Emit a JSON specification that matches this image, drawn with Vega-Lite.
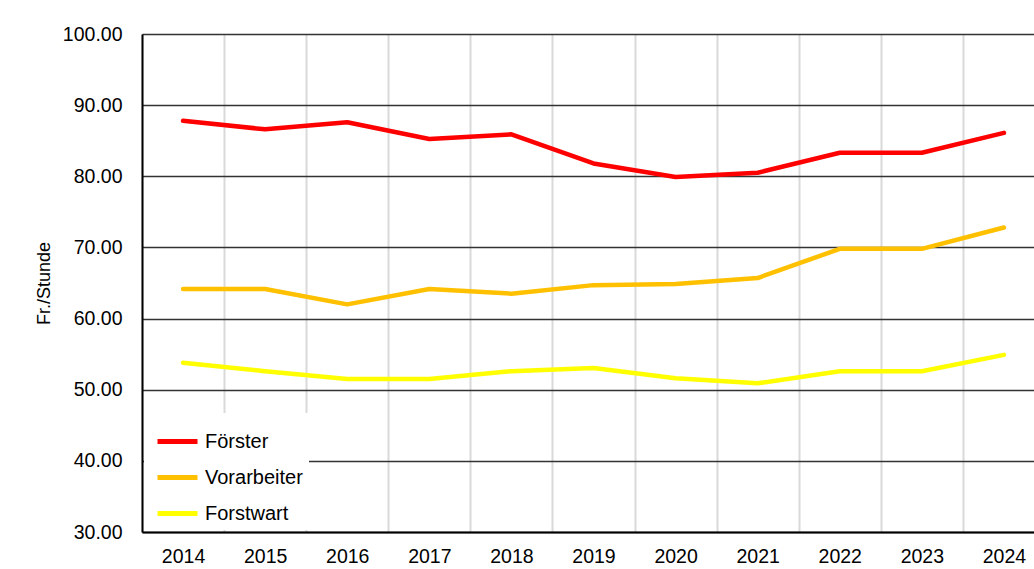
{
  "$schema": "https://vega.github.io/schema/vega-lite/v6.json",
  "width": 903,
  "height": 498,
  "autosize": {"type": "none"},
  "padding": {"left": 142, "top": 34, "right": 0, "bottom": 37},
  "background": "white",
  "config": {"view": {"stroke": null}, "font": "Liberation Sans"},
  "data": {
    "values": [
      {"year": 2014, "series": "Förster", "value": 87.8},
      {"year": 2015, "series": "Förster", "value": 86.6},
      {"year": 2016, "series": "Förster", "value": 87.6},
      {"year": 2017, "series": "Förster", "value": 85.25},
      {"year": 2018, "series": "Förster", "value": 85.9},
      {"year": 2019, "series": "Förster", "value": 81.8},
      {"year": 2020, "series": "Förster", "value": 79.9},
      {"year": 2021, "series": "Förster", "value": 80.5},
      {"year": 2022, "series": "Förster", "value": 83.3},
      {"year": 2023, "series": "Förster", "value": 83.3},
      {"year": 2024, "series": "Förster", "value": 86.1},
      {"year": 2014, "series": "Vorarbeiter", "value": 64.15},
      {"year": 2015, "series": "Vorarbeiter", "value": 64.15},
      {"year": 2016, "series": "Vorarbeiter", "value": 62.0},
      {"year": 2017, "series": "Vorarbeiter", "value": 64.15},
      {"year": 2018, "series": "Vorarbeiter", "value": 63.5},
      {"year": 2019, "series": "Vorarbeiter", "value": 64.7},
      {"year": 2020, "series": "Vorarbeiter", "value": 64.85},
      {"year": 2021, "series": "Vorarbeiter", "value": 65.7},
      {"year": 2022, "series": "Vorarbeiter", "value": 69.8},
      {"year": 2023, "series": "Vorarbeiter", "value": 69.8},
      {"year": 2024, "series": "Vorarbeiter", "value": 72.8},
      {"year": 2014, "series": "Forstwart", "value": 53.8},
      {"year": 2015, "series": "Forstwart", "value": 52.6},
      {"year": 2016, "series": "Forstwart", "value": 51.5},
      {"year": 2017, "series": "Forstwart", "value": 51.5},
      {"year": 2018, "series": "Forstwart", "value": 52.6},
      {"year": 2019, "series": "Forstwart", "value": 53.05},
      {"year": 2020, "series": "Forstwart", "value": 51.6},
      {"year": 2021, "series": "Forstwart", "value": 50.9},
      {"year": 2022, "series": "Forstwart", "value": 52.6},
      {"year": 2023, "series": "Forstwart", "value": 52.6},
      {"year": 2024, "series": "Forstwart", "value": 54.9}
    ]
  },
  "mark": {"type": "line", "strokeWidth": 4.5, "strokeCap": "round", "strokeJoin": "round"},
  "encoding": {
    "x": {
      "field": "year",
      "type": "quantitative",
      "scale": {"domain": [2013.5, 2024.5], "nice": false, "zero": false},
      "axis": {
        "values": [2013.5, 2014, 2014.5, 2015, 2015.5, 2016, 2016.5, 2017, 2017.5, 2018, 2018.5, 2019, 2019.5, 2020, 2020.5, 2021, 2021.5, 2022, 2022.5, 2023, 2023.5, 2024, 2024.5],
        "labelExpr": "datum.value % 1 === 0 ? format(datum.value, 'd') : ''",
        "title": null,
        "ticks": false,
        "domainColor": "#000000",
        "domainWidth": 2,
        "grid": true,
        "gridColor": "#D9D9D9",
        "gridWidth": 2,
        "gridOpacity": {"condition": {"test": "datum.value % 1 === 0", "value": 0}, "value": 1},
        "labelFontSize": 19.5,
        "labelPadding": 15,
        "labelColor": "#000000",
        "labelFlush": false,
        "labelOverlap": false
      }
    },
    "y": {
      "field": "value",
      "type": "quantitative",
      "scale": {"domain": [30, 100], "nice": false, "zero": false},
      "axis": {
        "values": [30, 40, 50, 60, 70, 80, 90, 100],
        "format": ".2f",
        "title": "Fr./Stunde",
        "ticks": false,
        "domainColor": "#000000",
        "domainWidth": 2,
        "gridColor": "#333333",
        "gridWidth": 1.5,
        "labelFontSize": 19.5,
        "labelPadding": 20,
        "labelColor": "#000000",
        "titleFontSize": 18,
        "titleFontWeight": "normal",
        "titleColor": "#000000",
        "titlePadding": 9
      }
    },
    "color": {
      "field": "series",
      "type": "nominal",
      "scale": {"domain": ["Förster", "Vorarbeiter", "Forstwart"], "range": ["#FF0000", "#FFC000", "#FFFF00"]},
      "legend": {
        "title": null,
        "orient": "bottom-left",
        "offset": 2,
        "fillColor": "white",
        "padding": 6,
        "symbolOffset": 5,
        "symbolType": "stroke",
        "symbolStrokeWidth": 5,
        "symbolSize": 1600,
        "labelFontSize": 20,
        "labelColor": "#000000",
        "labelOffset": 5,
        "rowPadding": 3
      }
    }
  }
}
